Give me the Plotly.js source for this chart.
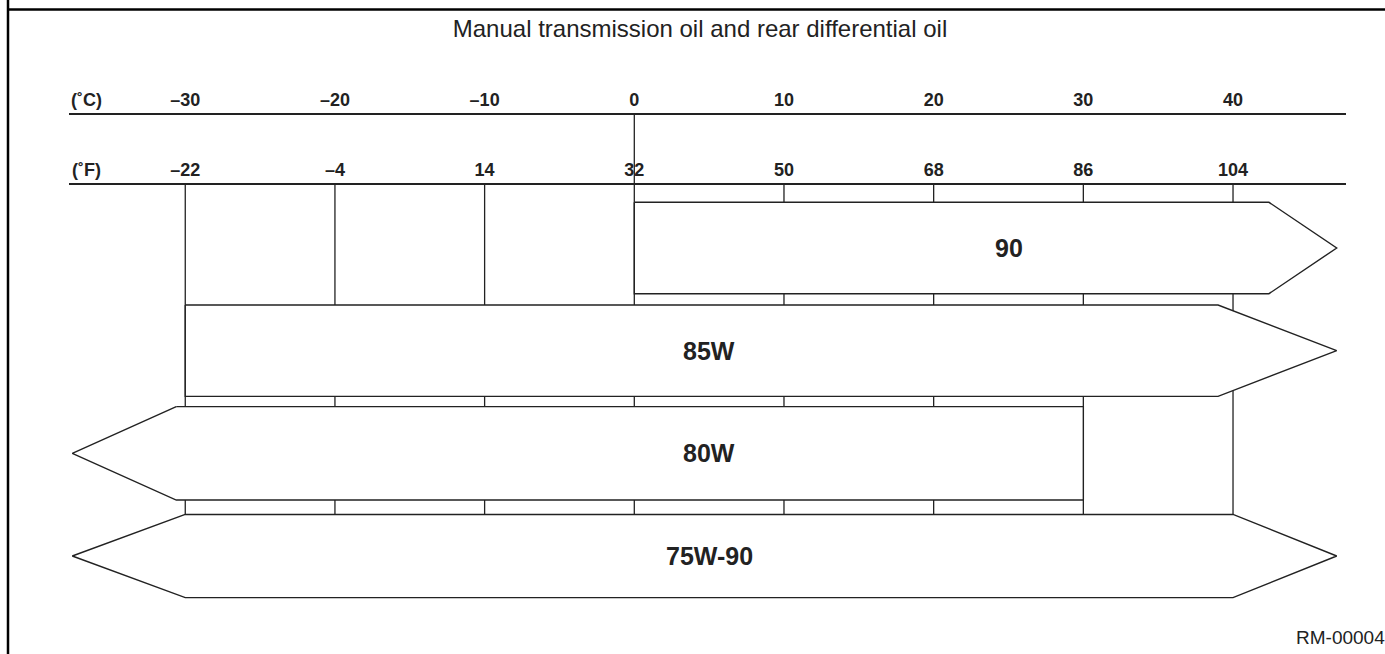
<!DOCTYPE html>
<html>
<head>
<meta charset="utf-8">
<script src="https://cdn.plot.ly/plotly-3.0.1.min.js"></script>
<style>html,body{margin:0;padding:0;background:#fff;}#chart{width:1385px;height:654px;}</style>
</head>
<body>
<div id="chart"></div>
<script>
// ---------------- data ----------------
const tempC = [-30, -20, -10, 0, 10, 20, 30, 40];
const tempF = [-22, -4, 14, 32, 50, 68, 86, 104];
const tickTextC = ['–30', '–20', '–10', '0', '10', '20', '30', '40'];
const tickTextF = ['–22', '–4', '14', '32', '50', '68', '86', '104'];
const grades = ['90', '85W', '80W', '75W-90'];
const bodyFromC = [0, -30, -30.6, -30];     // start of the bar body (°C)
const bodyToC = [42.4, 39, 30, 40];          // end of the bar body (°C)
const openBelow = [false, false, true, true];  // arrow pointing to colder temps
const openAbove = [true, true, false, true];   // arrow pointing to warmer temps
const labelAtC = [25, 5, 5, 5];              // where the grade label sits (°C)

// ---------------- layout constants ----------------
const W = 1385, H = 654;
const PX_PER_C = 14.968, PX_AT_0C = 634.3;
const pxToC = px => (px - PX_AT_0C) / PX_PER_C;
const X_DOMAIN_PX = [69, 1346];
const ROW_PX0 = 248, ROW_STEP = 102.67;
const pxToRow = px => (px - ROW_PX0) / ROW_STEP;
const C_AXIS_PX = 113.3, F_AXIS_PX = 183.3;
const TIP_LEFT = pxToC(72.3), TIP_RIGHT = pxToC(1336.7);
const BAR_HALF = [0.445, 0.445, 0.455, 0.405];
const INK = '#222';
const FONT = 'Liberation Sans, Arial, Helvetica, sans-serif';

const xRangeC = [pxToC(X_DOMAIN_PX[0]), pxToC(X_DOMAIN_PX[1])];
const xRangeF = xRangeC.map(c => c * 9 / 5 + 32);
const yC = pxToRow(C_AXIS_PX), yF = pxToRow(F_AXIS_PX);
const gridBottom = (grades.length - 1) - BAR_HALF[grades.length - 1];

// ---------------- traces ----------------
const traces = [];
// vertical guide lines
const gx = [], gy = [];
tempC.forEach(t => {
  gx.push(t, t, null); gy.push(yF, gridBottom, null);
  if (t === 0) { gx.push(t, t, null); gy.push(yC, yF, null); }
});
traces.push({x: gx, y: gy, mode: 'lines', line: {color: INK, width: 1.3},
  hoverinfo: 'skip', showlegend: false, xaxis: 'x', yaxis: 'y'});

// arrow bars
grades.forEach((g, i) => {
  const h = BAR_HALF[i], y0 = i - h, y1 = i + h;
  const xs = [bodyFromC[i], bodyToC[i]], ys = [y0, y0];
  if (openAbove[i]) { xs.push(TIP_RIGHT); ys.push(i); }
  xs.push(bodyToC[i], bodyFromC[i]); ys.push(y1, y1);
  if (openBelow[i]) { xs.push(TIP_LEFT); ys.push(i); }
  xs.push(bodyFromC[i]); ys.push(y0);
  traces.push({x: xs, y: ys, mode: 'lines', fill: 'toself', fillcolor: '#ffffff',
    line: {color: INK, width: 1.4}, name: g, hoverinfo: 'name', showlegend: false,
    xaxis: 'x', yaxis: 'y'});
});

// ---------------- annotations ----------------
const annotations = grades.map((g, i) => ({
  x: labelAtC[i], y: i, xref: 'x', yref: 'y', text: g, showarrow: false,
  font: {family: FONT, size: 25, color: INK, weight: 'bold'}, xanchor: 'center', yanchor: 'middle'
}));
annotations.push(
  {x: 86 / W, y: 1 - (C_AXIS_PX - 1) / H, xref: 'paper', yref: 'paper', text: '(˚C)', showarrow: false,
   font: {family: FONT, size: 18, color: INK, weight: 'bold'}, xanchor: 'center', yanchor: 'bottom'},
  {x: 86 / W, y: 1 - (F_AXIS_PX - 1) / H, xref: 'paper', yref: 'paper', text: '(˚F)', showarrow: false,
   font: {family: FONT, size: 18, color: INK, weight: 'bold'}, xanchor: 'center', yanchor: 'bottom'},
  {x: 1340 / W, y: 1 - 637 / H, xref: 'paper', yref: 'paper', text: 'RM-00004', showarrow: false,
   font: {family: FONT, size: 19, color: INK}, xanchor: 'center', yanchor: 'middle'}
);

const axisCommon = {
  showgrid: false, zeroline: false, showline: true, linecolor: INK, linewidth: 1.5,
  ticks: '', side: 'top', anchor: 'free', fixedrange: true,
  tickfont: {family: FONT, size: 18, color: INK, weight: 'bold'}
};

const layout = {
  width: W, height: H,
  margin: {l: 0, r: 0, t: 0, b: 0, pad: 0},
  paper_bgcolor: '#ffffff', plot_bgcolor: '#ffffff',
  showlegend: false,
  title: {text: 'Manual transmission oil and rear differential oil', xref: 'paper', yref: 'container',
    x: 700 / W, xanchor: 'center', y: 1 - 29 / H, yanchor: 'middle',
    font: {family: FONT, size: 24, color: INK}},
  xaxis: Object.assign({}, axisCommon, {
    domain: [X_DOMAIN_PX[0] / W, X_DOMAIN_PX[1] / W], range: xRangeC,
    position: 1 - C_AXIS_PX / H, tickmode: 'array', tickvals: tempC, ticktext: tickTextC
  }),
  xaxis2: Object.assign({}, axisCommon, {
    overlaying: 'x', range: xRangeF,
    position: 1 - F_AXIS_PX / H, tickmode: 'array', tickvals: tempF, ticktext: tickTextF
  }),
  yaxis: {domain: [0, 1], range: [pxToRow(H), pxToRow(0)], visible: false, fixedrange: true},
  shapes: [
    {type: 'line', xref: 'paper', yref: 'paper', x0: 8 / W, x1: 8 / W, y0: 0, y1: 1,
     line: {color: '#000', width: 2.5}},
    {type: 'line', xref: 'paper', yref: 'paper', x0: 8 / W, x1: 1, y0: 1 - 9.5 / H, y1: 1 - 9.5 / H,
     line: {color: '#000', width: 2.5}}
  ],
  annotations: annotations
};

// a dummy trace so the °F axis is drawn
traces.push({x: [tempF[0]], y: [null], xaxis: 'x2', yaxis: 'y', mode: 'markers',
  hoverinfo: 'skip', showlegend: false});

Plotly.newPlot('chart', traces, layout, {displayModeBar: false, staticPlot: true});
</script>
</body>
</html>
